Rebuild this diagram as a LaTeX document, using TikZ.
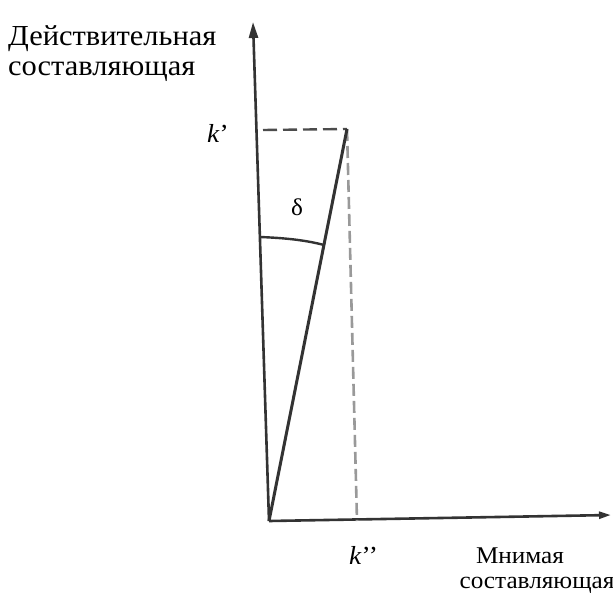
\documentclass[tikz,border=0pt]{standalone}
\usepackage{fontspec}
\setmainfont{Liberation Serif}[FakeStretch=1.05]
\usetikzlibrary{arrows.meta}
\begin{document}
\begin{tikzpicture}[x=1pt,y=-1pt,
  axis/.style={line width=2.6pt,draw=black!80,-{Triangle[length=16pt,width=9pt]}},
  vec/.style={line width=3pt,draw=black!80},
  dashk/.style={line width=2.4pt,draw=black!70,dash pattern=on 14pt off 6pt},
  dashv/.style={line width=2.6pt,draw=black!40,dash pattern=on 12pt off 5pt},
  big/.style={font=\fontsize{29}{30}\selectfont,inner sep=0pt,anchor=base west},
  mid/.style={font=\fontsize{26}{26}\selectfont,inner sep=0pt,anchor=base west},
  small/.style={font=\fontsize{24}{25}\selectfont,inner sep=0pt,anchor=base}]
\useasboundingbox (0,0) rectangle (613,600);
\fill[white] (0,0) rectangle (613,600);
\coordinate (O) at (269,521);
\coordinate (Y) at (253,22);
\coordinate (X) at (611,515);
\coordinate (P) at (347,129);
\coordinate (Kl) at (263,130);
\coordinate (Kb) at (357,521);
\coordinate (A1) at (260,237);
\coordinate (A2) at (324,245);
\draw[axis] (O) -- (Y);
\draw[axis,-{Triangle[length=12pt,width=7pt]}] (O) -- (X);
\draw[dashv] (P) -- (Kb);
\draw[dashk] (Kl) -- (P);
\draw[vec] (O) -- (P);
\draw[line width=2.4pt,draw=black!80] (A1) .. controls (285,238) and (305,240) .. (A2);
\node[big] (t1a) at (8,45) {Действительная};
\node[big] (t1b) at (8,75) {составляющая};
\node[mid] (kp) at (207,142) {\textit{k}’};
\node[small] (d) at (297,215) {δ};
\node[mid] (kpp) at (349,564) {\textit{k}’’};
\node[small] (t2a) at (520,563) {Мнимая};
\node[small] (t2b) at (537,588) {составляющая};
\end{tikzpicture}
\end{document}
